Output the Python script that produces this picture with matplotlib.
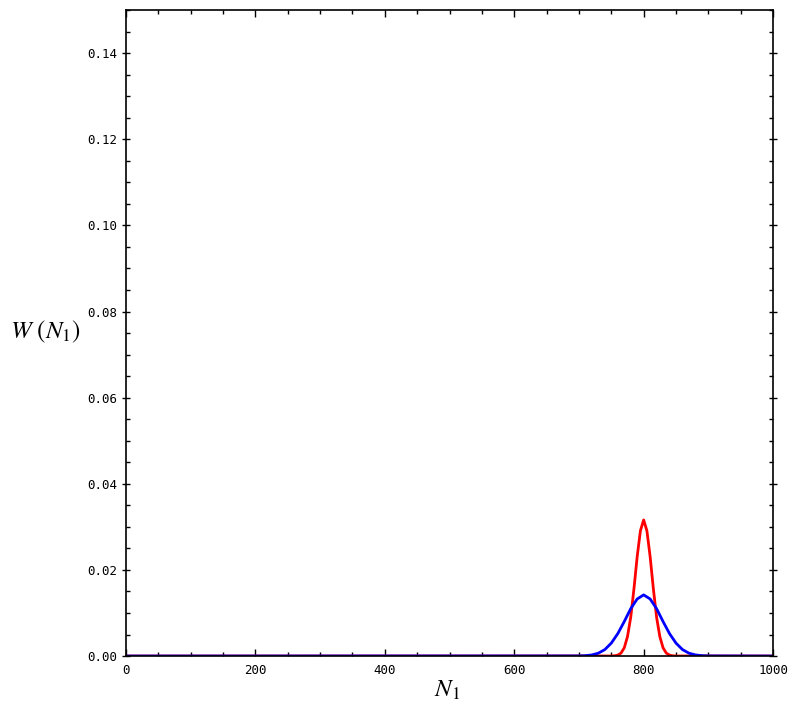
import numpy as np
import matplotlib.pyplot as plt
from matplotlib.ticker import MultipleLocator, FormatStrFormatter

plt.rcParams['mathtext.fontset'] = 'stix'

# red curve (narrow)
x_red = [0, 750, 755, 760, 765, 770, 775, 780, 785, 790, 795, 800,
         805, 810, 815, 820, 825, 830, 835, 840, 845, 850, 1000]
w_red = [0.0, 0.00001, 0.00006, 0.00021, 0.00068, 0.0019, 0.0045, 0.0090,
         0.0156, 0.0231, 0.0291, 0.0316, 0.0291, 0.0231, 0.0156, 0.0090,
         0.0045, 0.0019, 0.00068, 0.00021, 0.00006, 0.00001, 0.0]

# blue curve (wide)
x_blue = [0, 700, 710, 720, 730, 740, 750, 760, 770, 780, 790, 800,
          810, 820, 830, 840, 850, 860, 870, 880, 890, 900, 1000]
w_blue = [0.0, 0.00003, 0.00009, 0.00026, 0.00066, 0.0015, 0.0030, 0.0052,
          0.0080, 0.0110, 0.01325, 0.0142, 0.01325, 0.0110, 0.0080, 0.0052,
          0.0030, 0.0015, 0.00066, 0.00026, 0.00009, 0.00003, 0.0]

fig = plt.figure(figsize=(8.1, 7.08), dpi=100)
ax = fig.add_axes([0.1556, 0.0734, 0.7988, 0.9124])

ax.plot(x_red, w_red, color='#ff0000', lw=2)
ax.plot(x_blue, w_blue, color='#0000ff', lw=2)

ax.set_xlim(0, 1000)
ax.set_ylim(0, 0.15)

ax.xaxis.set_major_locator(MultipleLocator(200))
ax.xaxis.set_minor_locator(MultipleLocator(50))
ax.yaxis.set_major_locator(MultipleLocator(0.02))
ax.yaxis.set_minor_locator(MultipleLocator(0.005))
ax.yaxis.set_major_formatter(FormatStrFormatter('%.2f'))

ax.tick_params(which='both', direction='in', top=True, right=True,
               width=1, labelsize=9)
ax.tick_params(which='major', length=5)
ax.tick_params(which='minor', length=3)
ax.tick_params(axis='x', which='major', pad=6)
ax.tick_params(axis='y', which='major', direction='inout', length=6)
for lab in ax.get_xticklabels() + ax.get_yticklabels():
    lab.set_family('DejaVu Sans Mono')
for s in ax.spines.values():
    s.set_linewidth(1.2)

fig.text(45 / 810, 1 - 332 / 708, r'$W\ (N_1)$', fontsize=18,
         ha='center', va='center')
fig.text(447 / 810, 1 - 690 / 708, r'$N_1$', fontsize=18,
         ha='center', va='center')

fig.savefig('out.png', dpi=100)
